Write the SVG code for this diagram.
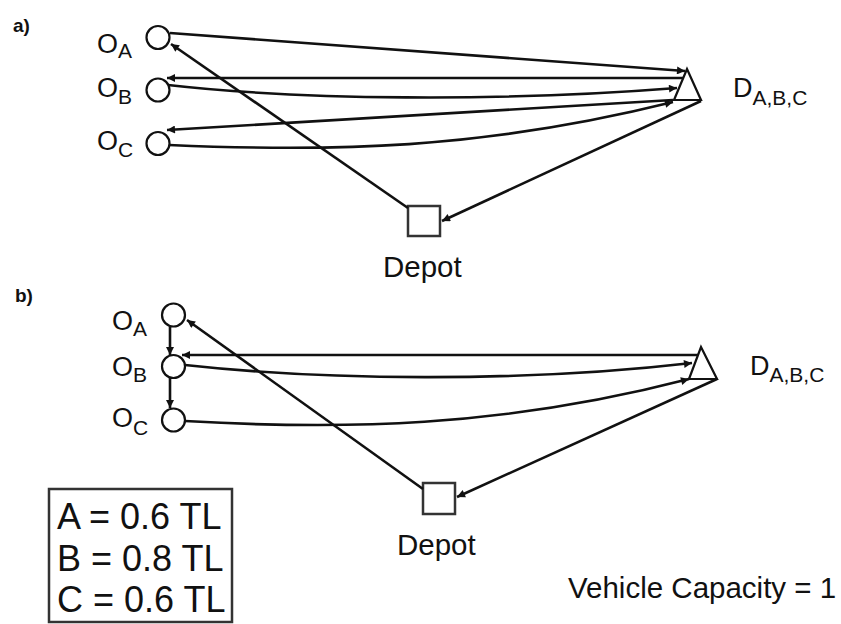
<svg xmlns="http://www.w3.org/2000/svg" width="841" height="624" viewBox="0 0 841 624">
<defs>
<style>
.lbl{font-family:"Liberation Sans",Arial,sans-serif;font-size:27px;fill:#111}
.sub{font-size:21px}
.big{font-family:"Liberation Sans",Arial,sans-serif;font-size:29.5px;fill:#111}
.box{font-family:"Liberation Sans",Arial,sans-serif;font-size:36px;fill:#111}
.tag{font-family:"Liberation Sans",Arial,sans-serif;font-size:19px;font-weight:bold;fill:#111}
.nd{fill:#fff;stroke:#111;stroke-width:2.2}
.sq{fill:#fff;stroke:#333;stroke-width:2.5}
.cn path{fill:none;stroke:#111;stroke-width:2.6;marker-end:url(#ah)}
</style>
<marker id="ah" viewBox="0 0 10 10" refX="10" refY="5" markerWidth="12" markerHeight="8" markerUnits="userSpaceOnUse" orient="auto"><path d="M0,0 L10,5 L0,10 z" fill="#111"/></marker>
</defs>
<rect width="841" height="624" fill="#fff"/>

<text class="tag" x="13" y="32">a)</text>
<text class="tag" x="15" y="302">b)</text>

<!-- part a nodes -->
<g id="a-OA"><circle class="nd" cx="158" cy="37.5" r="11.5"/><text class="lbl" x="97" y="53">O<tspan class="sub" dy="5">A</tspan></text></g>
<g id="a-OB"><circle class="nd" cx="158" cy="90" r="11.5"/><text class="lbl" x="97" y="97">O<tspan class="sub" dy="7">B</tspan></text></g>
<g id="a-OC"><circle class="nd" cx="158" cy="143.5" r="11.5"/><text class="lbl" x="97" y="150">O<tspan class="sub" dy="7">C</tspan></text></g>
<g id="a-D"><path class="nd" d="M687,69 L701,100 L674,100 Z"/><text class="lbl" x="733" y="97">D<tspan class="sub" dy="8">A,B,C</tspan></text></g>
<g id="a-depot"><rect class="sq" x="408" y="206" width="32" height="30"/><text class="big" x="383" y="277">Depot</text></g>

<!-- part b nodes -->
<g id="b-OA"><circle class="nd" cx="173.5" cy="315" r="11.5"/><text class="lbl" x="112" y="330">O<tspan class="sub" dy="6">A</tspan></text></g>
<g id="b-OB"><circle class="nd" cx="173.5" cy="366.5" r="11.5"/><text class="lbl" x="112" y="376">O<tspan class="sub" dy="6">B</tspan></text></g>
<g id="b-OC"><circle class="nd" cx="173.5" cy="420" r="11.5"/><text class="lbl" x="112" y="427">O<tspan class="sub" dy="8">C</tspan></text></g>
<g id="b-D"><path class="nd" d="M701,347 L717,379 L689,379 Z"/><text class="lbl" x="750" y="375">D<tspan class="sub" dy="7">A,B,C</tspan></text></g>
<g id="b-depot"><rect class="sq" x="423" y="483" width="32" height="31"/><text class="big" x="397" y="555">Depot</text></g>

<g id="legend"><rect x="49" y="489" width="183" height="133" fill="none" stroke="#333" stroke-width="2.5"/>
<text class="box" x="57" y="529">A = 0.6 TL</text>
<text class="box" x="57" y="571">B = 0.8 TL</text>
<text class="box" x="57" y="612">C = 0.6 TL</text></g>
<text class="big" x="568" y="598">Vehicle Capacity = 1</text>

<g id="connectors" class="cn">
<path d="M170,33 L685,71"/>
<path d="M683,78 L167,78"/>
<path d="M168,85 C300,100 500,102 677,88"/>
<path d="M673,100 L167,130"/>
<path d="M169,145 C330,152 480,150 673,102"/>
<path d="M408,208 L171,44"/>
<path d="M701,101 L442,221"/>

<path d="M170,327 L170,355"/>
<path d="M170,378 L170,408"/>
<path d="M698,355 L182,355"/>
<path d="M185,365 C320,380 520,383 692,363"/>
<path d="M185,421 C340,430 500,428 689,379"/>
<path d="M423,489 L187,320"/>
<path d="M717,379 L457,497"/>
</g>
</svg>
